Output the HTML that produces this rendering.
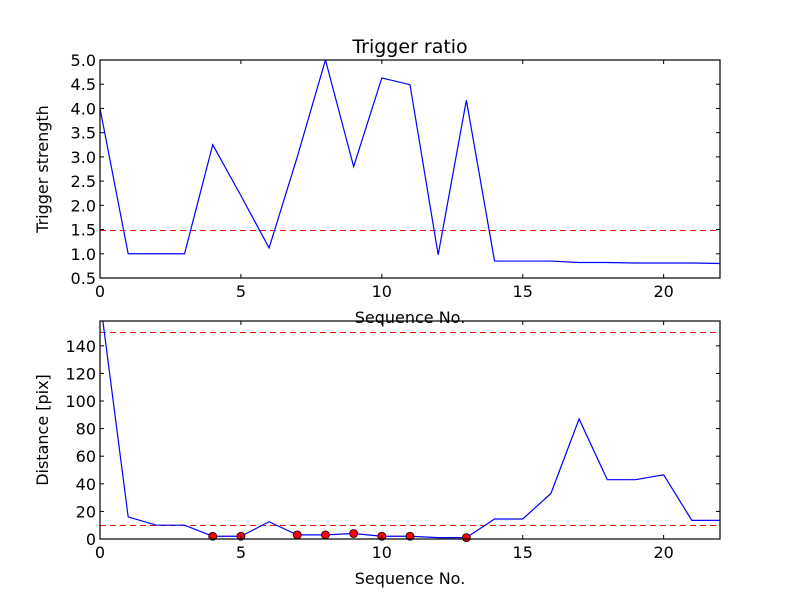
<!DOCTYPE html>
<html><head><meta charset="utf-8"><style>
body{margin:0;background:#fff}
svg{display:block;font-family:"DejaVu Sans","Liberation Sans",sans-serif}
</style></head><body>
<svg id="chart" width="800" height="600" xmlns="http://www.w3.org/2000/svg">
<rect width="800" height="600" fill="#fff"/>
</svg>
<script>
const seqIndex = [0,1,2,3,4,5,6,7,8,9,10,11,12,13,14,15,16,17,18,19,20,21,22];
const triggerStrength = [4.0,1.0,1.0,1.0,3.25,2.2,1.12,3.0,5.0,2.8,4.63,4.49,0.98,4.17,0.85,0.85,0.85,0.82,0.82,0.81,0.81,0.81,0.80];
const triggerThreshold = 1.5;
const distance = [174,16,10,10,2,2,12.5,3,3,4,2,2,1,1,14.5,14.5,33,87,43,43,46.5,13.5,13.5];
const distanceThresholds = [150,10];
const markerIdx = [4,5,7,8,9,10,11,13];
const xTicks = [0,5,10,15,20];
const topYTicks = [0.5,1.0,1.5,2.0,2.5,3.0,3.5,4.0,4.5,5.0];
const botYTicks = [0,20,40,60,80,100,120,140];

const svg = document.getElementById('chart');
const NS = 'http://www.w3.org/2000/svg';
function mk(tag, attrs, parent){const e=document.createElementNS(NS,tag);for(const k in attrs)e.setAttribute(k,attrs[k]);(parent||svg).appendChild(e);return e;}

function panel(name, top, bottom, ymin, ymax, yTicks, fmt, ylabel, clipId){
  const L=100,R=720;
  const xs=v=>L+(v-0)/(22-0)*(R-L);
  const ys=v=>bottom-(v-ymin)/(ymax-ymin)*(bottom-top);
  const g=mk('g',{});
  
  
  const cp=mk('clipPath',{id:clipId},g);
  mk('rect',{x:L,y:top,width:R-L,height:bottom-top},cp);
  return {g,xs,ys,L,R,top,bottom,fmt,yTicks,ylabel,clipId};
}
function axes(p, xlabel){
  const {g,xs,ys,L,R,top,bottom}=p;
  xTicks.forEach(t=>{
    const x=xs(t);
    mk('line',{x1:x,y1:bottom,x2:x,y2:bottom-4,stroke:'#000'},g);
    mk('line',{x1:x,y1:top,x2:x,y2:top+4,stroke:'#000'},g);
    const tx=mk('text',{x:x,y:bottom+19,'text-anchor':'middle','font-size':'16'},g);
    tx.textContent=t;
    
    
  });
  p.yTicks.forEach(t=>{
    const y=ys(t);
    mk('line',{x1:L,y1:y,x2:L+4,y2:y,stroke:'#000'},g);
    mk('line',{x1:R,y1:y,x2:R-4,y2:y,stroke:'#000'},g);
    const tx=mk('text',{x:L-4,y:y+6,'text-anchor':'end','font-size':'16'},g);
    tx.textContent=p.fmt(t);
    
    
  });
  const yl=mk('text',{x:0,y:0,'text-anchor':'middle','font-size':'16',transform:`translate(${L-52},${(top+bottom)/2}) rotate(-90)`},g);
  yl.textContent=p.ylabel;
  
  
  const xl=mk('text',{x:(L+R)/2,y:bottom+45,'text-anchor':'middle','font-size':'16'},g);
  xl.textContent=xlabel;
  
  
  const fr=mk('rect',{x:L,y:top,width:R-L,height:bottom-top,fill:'none',stroke:'#000','stroke-width':1.2},g);
  
  
}
function hline(p,v){
  const y=Math.round(p.ys(v))+0.5;
  const l=mk('line',{x1:p.L,x2:p.R,y1:y,y2:y,stroke:'#ff0000','stroke-width':1.2,'stroke-dasharray':'6,4','shape-rendering':'crispEdges','clip-path':`url(#${p.clipId})`},p.g);
  
  
}
function series(p,vals){
  const d=vals.map((v,i)=>(i?'L':'M')+p.xs(seqIndex[i]).toFixed(2)+','+p.ys(v).toFixed(2)).join(' ');
  const pa=mk('path',{d,fill:'none',stroke:'#00f','stroke-width':1.2,'clip-path':`url(#${p.clipId})`},p.g);
  
  
}

// top panel
const p1=panel('trigger',60,278,0.5,5.0,topYTicks,v=>v.toFixed(1),'Trigger strength','c1');
hline(p1,triggerThreshold);
series(p1,triggerStrength);
axes(p1,'Sequence No.');
const title=mk('text',{x:410,y:53,'text-anchor':'middle','font-size':'19'},p1.g);
title.textContent='Trigger ratio';



// bottom panel
const p2=panel('distance',321,539,0,158,botYTicks,v=>String(v),'Distance [pix]','c2');
distanceThresholds.forEach(v=>hline(p2,v));
series(p2,distance);
markerIdx.forEach(i=>{
  const c=mk('circle',{cx:p2.xs(seqIndex[i]),cy:p2.ys(distance[i]),r:4,fill:'#f00',stroke:'#000','stroke-width':0.8},p2.g);
  
  
});
axes(p2,'Sequence No.');
</script>
</body></html>
